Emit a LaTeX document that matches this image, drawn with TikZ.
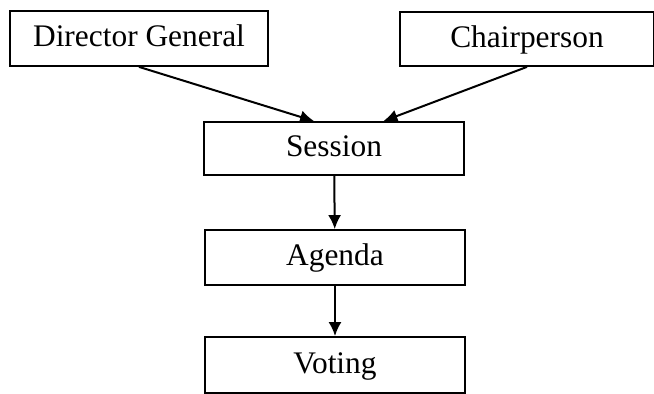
\documentclass[tikz,border=0pt]{standalone}
\usepackage{fontspec}
\setmainfont{Liberation Serif}
\usetikzlibrary{arrows.meta}
\tikzset{
	stage/.style={draw, line width=0.9pt, inner sep=0pt, text height=0.85em, text depth=0pt, font=\fontsize{15.7}{19}\selectfont},
	flow/.style={line width=1pt, -{Latex[length=7pt,width=6.5pt]}}
}
\begin{document}
\begin{tikzpicture}[x=0.5pt, y=-0.5pt]
			\useasboundingbox (0,0) rectangle (654,394);
			
			\node[stage, minimum width=129pt, minimum height=27.5pt] (director) at (139,38.5) {Director General};
			\node[stage, minimum width=127pt, minimum height=27pt] (chair) at (527,39) {Chairperson};
			\node[stage, minimum width=130pt, minimum height=26.5pt] (session) at (334,148.5) {Session};
			\node[stage, minimum width=130pt, minimum height=27.5pt] (agenda) at (335,257.5) {Agenda};
			\node[stage, minimum width=130pt, minimum height=28pt] (voting) at (335,365) {Voting};
			
			\draw[flow] (director.south) -- (session.126);
			\draw[flow] (chair.south) -- (session.29);
			\draw[flow] (session) -- (agenda);
			\draw[flow] (agenda) -- (voting);
			
		\end{tikzpicture}
\end{document}
